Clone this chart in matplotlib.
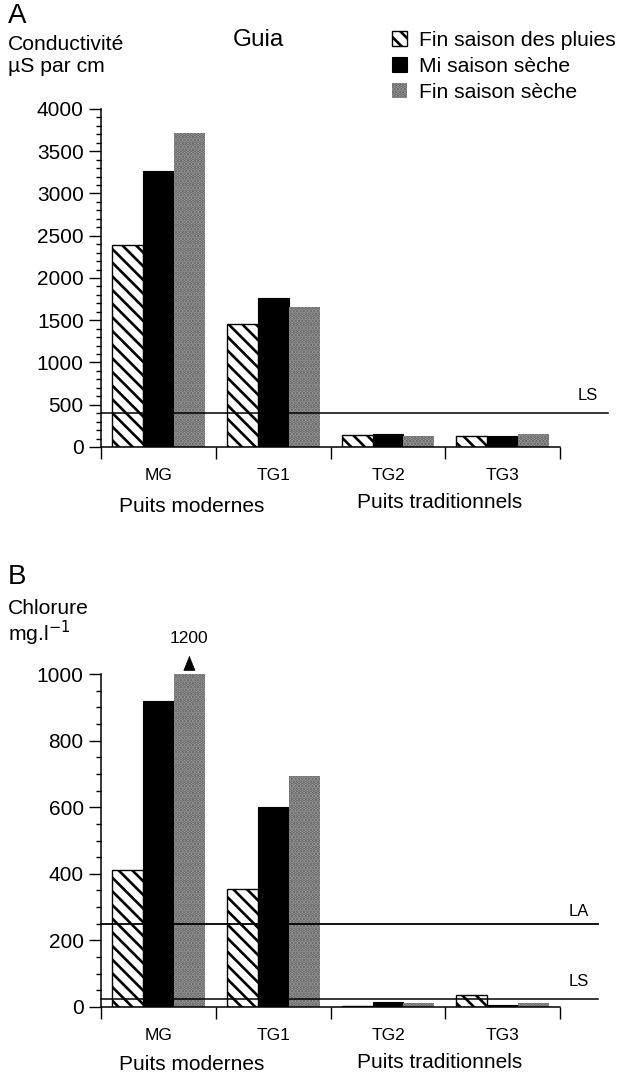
import numpy as np
import matplotlib
matplotlib.use('Agg')
import matplotlib.pyplot as plt
from matplotlib.patches import Patch
from matplotlib.ticker import MultipleLocator

# Data
wells = ['MG', 'TG1', 'TG2', 'TG3']
seasons = ['Fin saison des pluies', 'Mi saison sèche', 'Fin saison sèche']

cond_pluies = [2390, 1455, 140, 125]
cond_mi = [3270, 1765, 155, 125]
cond_fin = [3720, 1655, 130, 150]
cond_ls = 400

chl_pluies = [410, 355, 4, 35]
chl_mi = [920, 600, 15, 5]
chl_fin = [1200, 695, 11, 11]
chl_la = 250
chl_ls = 25
chl_max = 1000

W, H = 619, 1074
# a lower dpi makes the hatch tile smaller (denser stripes); sizes are scaled back up
DPI = 82
S = 100 / DPI

plt.rcParams['font.family'] = ['Liberation Sans', 'DejaVu Sans']
plt.rcParams['hatch.linewidth'] = 1.9 * S


def fx(px):
    return px / W


def fy(py):
    return 1 - py / H


styles = [
    dict(facecolor='white', edgecolor='black', hatch='\\\\', linewidth=1.0 * S),
    dict(facecolor='black', edgecolor='black', linewidth=0.8 * S),
    dict(facecolor='#aaaaaa', edgecolor='#5a5a5a', hatch='....', linewidth=0),
]

fig = plt.figure(figsize=(W / DPI, H / DPI), dpi=DPI)

unit = 114.8  # px per well slot
axA = fig.add_axes([fx(101), fy(447), 4.5 * unit / W, 338 / H])
axB = fig.add_axes([fx(101), fy(1007), 4.5 * unit / W, 333 / H])

x = np.arange(len(wells)) + 0.5
bw = 0.27


def draw_panel(ax, series, ymax, major, minor):
    for k, vals in enumerate(series):
        vals = np.minimum(vals, ymax)
        ax.bar(x + (k - 1) * bw, vals, width=bw, zorder=2, **styles[k])
    ax.set_xlim(0, 4.5)
    ax.set_ylim(0, ymax)
    for s in ['top', 'right']:
        ax.spines[s].set_visible(False)
    ax.spines['left'].set_bounds(0, ymax)
    ax.spines['bottom'].set_bounds(0, 4)
    ax.spines['left'].set_linewidth(1.1 * S)
    ax.spines['bottom'].set_linewidth(1.1 * S)
    ax.yaxis.set_major_locator(MultipleLocator(major))
    ax.yaxis.set_minor_locator(MultipleLocator(minor))
    ax.tick_params(axis='y', which='major', length=8.5 * S, width=1.0 * S, pad=4 * S, labelsize=15 * S)
    ax.tick_params(axis='y', which='minor', length=3.5 * S, width=1.0 * S)
    ax.set_xticks([0, 1, 2, 3, 4])
    ax.set_xticklabels([])
    ax.set_xticks(x, wells, minor=True)
    ax.tick_params(axis='x', which='major', length=8.5 * S, width=1.0 * S)
    ax.tick_params(axis='x', which='minor', length=0, pad=15 * S, labelsize=12.5 * S)
    ax.patch.set_visible(False)


draw_panel(axA, [cond_pluies, cond_mi, cond_fin], 4000, 500, 100)
draw_panel(axB, [chl_pluies, chl_mi, chl_fin], chl_max, 200, 50)

# Reference lines
axA.plot([0, 4.42], [cond_ls, cond_ls], color='black', lw=1.1 * S, zorder=3, clip_on=False)
axA.text(4.33, cond_ls + 215, 'LS', ha='right', va='center', fontsize=12 * S, zorder=4)

axB.plot([0, 4.33], [chl_la, chl_la], color='black', lw=1.3 * S, zorder=3, clip_on=False)
axB.plot([0, 4.33], [chl_ls, chl_ls], color='black', lw=1.1 * S, zorder=3, clip_on=False)
axB.text(4.25, chl_la + 36, 'LA', ha='right', va='center', fontsize=12 * S, zorder=4)
axB.text(4.25, chl_ls + 52, 'LS', ha='right', va='center', fontsize=12 * S, zorder=4)

# Truncated bar marker
xg = x[0] + bw
axB.annotate('', xy=(xg, 1062), xytext=(xg, 1024), xycoords='data',
             arrowprops=dict(arrowstyle='-|>,head_length=0.5,head_width=0.2',
                             color='black', lw=0.5 * S, mutation_scale=20 * S),
             annotation_clip=False)
axB.text(xg, 1108, str(chl_fin[0]), ha='center', va='center', fontsize=12.5 * S)

# Panel texts
fig.text(fx(8), fy(16), 'A', fontsize=20 * S, va='center', ha='left')
fig.text(fx(8), fy(45), 'Conductivité', fontsize=15.2 * S, va='center', ha='left')
fig.text(fx(8), fy(67), 'µS par cm', fontsize=15.2 * S, va='center', ha='left')
fig.text(fx(258), fy(40), 'Guia', fontsize=17.5 * S, va='center', ha='center')

fig.text(fx(8), fy(577), 'B', fontsize=20 * S, va='center', ha='left')
fig.text(fx(8), fy(609), 'Chlorure', fontsize=15.2 * S, va='center', ha='left')
fig.text(fx(8), fy(633), 'mg.l$^{-1}$', fontsize=15.2 * S, va='center', ha='left')

for yy in (506, 1065):
    fig.text(fx(192), fy(yy), 'Puits modernes', fontsize=15 * S, va='center', ha='center')
    fig.text(fx(440), fy(yy - 3), 'Puits traditionnels', fontsize=15 * S, va='center', ha='center')

handles = [Patch(**styles[k], label=seasons[k]) for k in range(3)]
fig.legend(handles=handles, loc='upper left', bbox_to_anchor=(fx(392), fy(31)),
           frameon=False, fontsize=15.2 * S, handlelength=0.7, handleheight=0.7,
           handletextpad=0.6, labelspacing=0.32, borderaxespad=0, borderpad=0)

fig.savefig('out.png', dpi=DPI)
